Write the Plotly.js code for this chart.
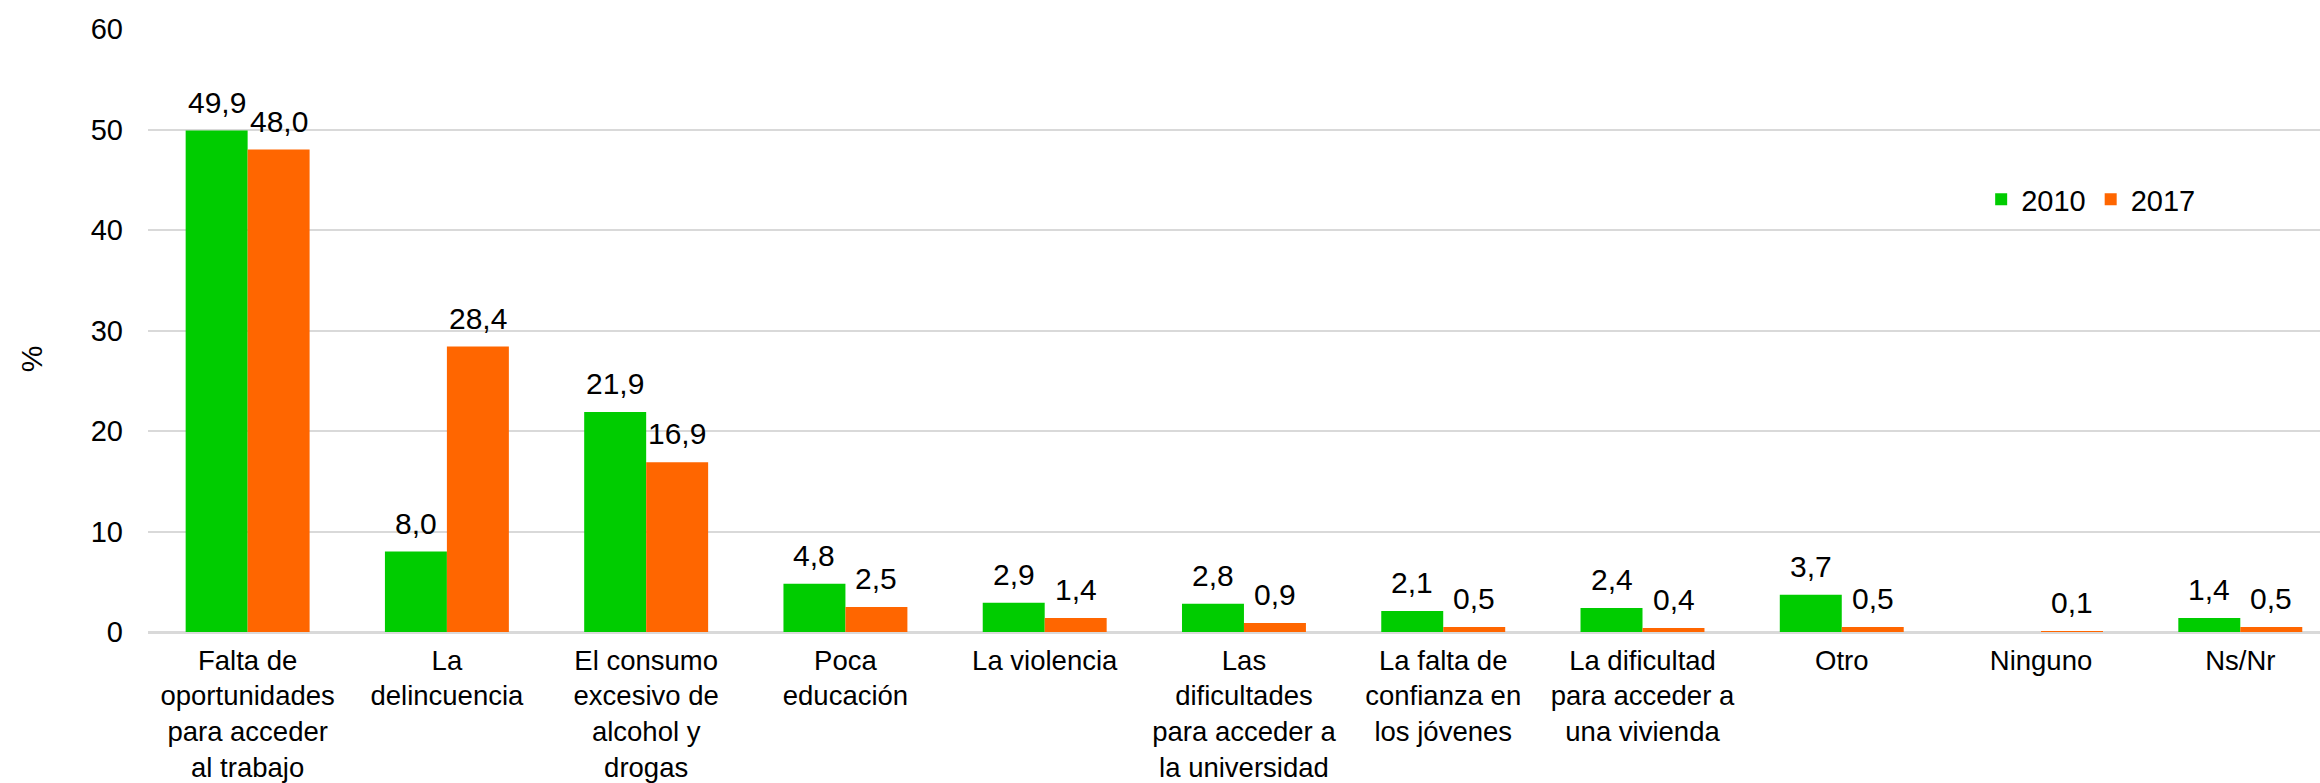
<!DOCTYPE html>
<html>
<head>
<meta charset="utf-8">
<script src="https://cdn.plot.ly/plotly-3.0.1.min.js"></script>
<style>
  html, body { margin: 0; padding: 0; background: #ffffff; }
  #chart { width: 2320px; height: 783px; }
</style>
</head>
<body>
<div id="chart"></div>
<script>
const categories = [
  "Falta de<br>oportunidades<br>para acceder<br>al trabajo",
  "La<br>delincuencia",
  "El consumo<br>excesivo de<br>alcohol y<br>drogas",
  "Poca<br>educación",
  "La violencia",
  "Las<br>dificultades<br>para acceder a<br>la universidad",
  "La falta de<br>confianza en<br>los jóvenes",
  "La dificultad<br>para acceder a<br>una vivienda",
  "Otro",
  "Ninguno",
  "Ns/Nr"
];
const values2010 = [49.9, 8.0, 21.9, 4.8, 2.9, 2.8, 2.1, 2.4, 3.7, null, 1.4];
const values2017 = [48.0, 28.4, 16.9, 2.5, 1.4, 0.9, 0.5, 0.4, 0.5, 0.1, 0.5];
const seriesNames = ["2010", "2017"];
const yTicks = [0, 10, 20, 30, 40, 50, 60];

const FONT = "Liberation Sans, Arial, sans-serif";
const COLORS = ["#00CC00", "#FF6600"];
const fmt = v => v.toFixed(1).replace(".", ",");

const series = [values2010, values2017];
const traces = series.map((vals, i) => ({
  type: "bar", name: seriesNames[i], x: categories, y: vals,
  marker: { color: COLORS[i], line: { width: 0 } },
  hoverinfo: "none"
}));

// value labels placed above each bar (group offset of half a bar width)
const annotations = [];
series.forEach((vals, i) => {
  vals.forEach((v, k) => {
    if (v === null) return;
    annotations.push({
      x: categories[k], y: v, xref: "x", yref: "y",
      text: fmt(v), showarrow: false,
      xanchor: "center", yanchor: "bottom",
      xshift: i === 0 ? -31 : 31, yshift: 10,
      font: { family: FONT, size: 30, color: "#000" }
    });
  });
});
annotations.push({
  x: -0.0539, y: 0.454, xref: "paper", yref: "paper",
  text: "%", textangle: -90, showarrow: false,
  xanchor: "center", yanchor: "middle",
  font: { family: FONT, size: 30, color: "#000" }
});

const layout = {
  width: 2320, height: 783,
  separators: ",.",
  margin: { l: 148, r: 0, t: 28.5, b: 151, pad: 0 },
  paper_bgcolor: "#ffffff", plot_bgcolor: "#ffffff",
  font: { family: FONT, size: 30, color: "#000" },
  barmode: "group",
  bargap: 0.378, bargroupgap: 0,
  showlegend: true,
  legend: {
    orientation: "h", x: 0.844, xanchor: "left", y: 0.7175, yanchor: "middle",
    font: { family: FONT, size: 29, color: "#000" },
    bgcolor: "rgba(0,0,0,0)", itemwidth: 30, tracegroupgap: 0
  },
  annotations: annotations,
  xaxis: {
    type: "category", range: [-0.5, 10.4],
    showgrid: false, zeroline: false, showline: false,
    ticks: "", tickfont: { family: FONT, size: 27.5, color: "#000" },
    ticklabelstandoff: 9
  },
  yaxis: {
    range: [0, 60], tickvals: yTicks, ticktext: yTicks.map(String),
    showgrid: true, gridcolor: "#d9d9d9", gridwidth: 2,
    zeroline: true, zerolinecolor: "#d9d9d9", zerolinewidth: 3,
    showline: false, ticks: "",
    tickfont: { family: FONT, size: 29, color: "#000" },
    ticklabelstandoff: 24
  }
};

Plotly.newPlot("chart", traces, layout, { displayModeBar: false, staticPlot: true });
</script>
</body>
</html>
